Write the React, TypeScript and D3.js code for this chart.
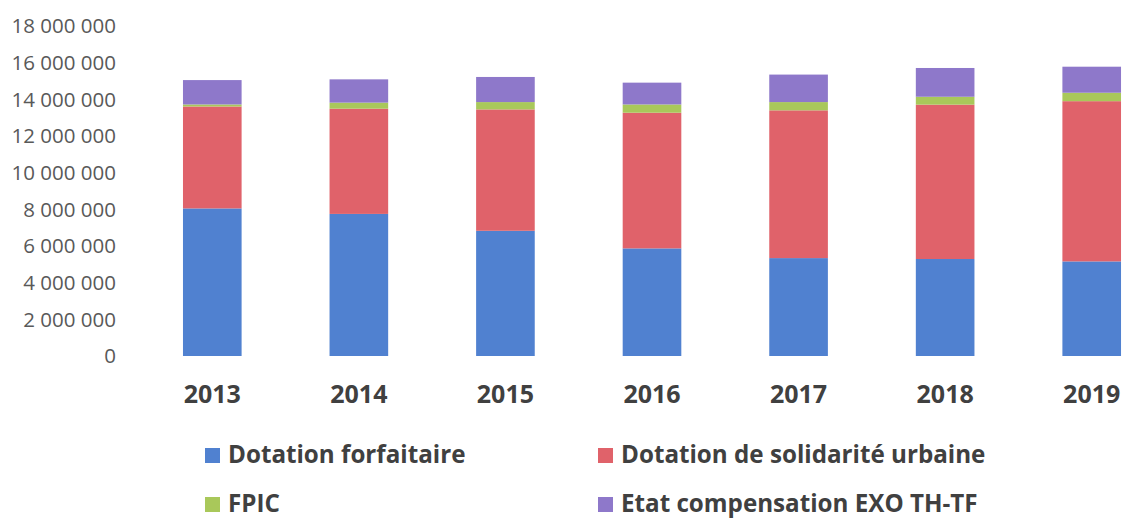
import React from 'react';
import * as d3 from 'd3';

const years = ['2013', '2014', '2015', '2016', '2017', '2018', '2019'];
const dotationForfaitaire = [8050000, 7750000, 6830000, 5870000, 5340000, 5290000, 5160000];
const dsu = [5560000, 5740000, 6620000, 7400000, 8060000, 8420000, 8740000];
const fpic = [110000, 330000, 400000, 450000, 450000, 430000, 460000];
const etatCompensation = [1330000, 1270000, 1370000, 1190000, 1500000, 1570000, 1420000];

const seriesNames = ['Dotation forfaitaire', 'Dotation de solidarité urbaine', 'FPIC', 'Etat compensation EXO TH-TF'];
const seriesKeys = ['df', 'dsu', 'fpic', 'etat'];
const colors = ['#5081D0', '#E0626A', '#A9C85A', '#8E78CA'];
const yTicks = [0, 2000000, 4000000, 6000000, 8000000, 10000000, 12000000, 14000000, 16000000, 18000000];

const width = 1124;
const height = 518;

const rows = years.map((y, i) => ({
  year: y,
  df: dotationForfaitaire[i],
  dsu: dsu[i],
  fpic: fpic[i],
  etat: etatCompensation[i],
}));

const fmt = (v: number) => d3.format(',')(v).replace(/,/g, ' ');

export default function App() {
  const x = d3.scaleBand<string>().domain(years).range([139, 1165]).paddingInner(0.6).paddingOuter(0.3);
  const y = d3.scaleLinear().domain([0, 18000000]).range([356, 26]);
  const stacked = d3.stack<any>().keys(seriesKeys)(rows);

  // legend spots: two columns, two rows
  const legendPos = [
    [205, 448],
    [598, 448],
    [205, 497],
    [598, 497],
  ];

  return (
    <svg width={width} height={height} style={{ position: 'absolute', left: 0, top: 0, background: '#fff' }}>
      <g>
        {yTicks.map((t) => (
          <text
            key={t}
            x={116}
            y={y(t)}
            dy="0.35em"
            textAnchor="end"
            fontFamily="Open Sans"
            fontSize={20.5}
            fill="#595959"
          >
            {fmt(t)}
          </text>
        ))}
      </g>
      <g>
        {stacked.map((s, si) =>
          s.map((d, i) => (
            <rect
              key={si + '-' + i}
              x={x(years[i])}
              y={y(d[1])}
              width={x.bandwidth()}
              height={y(d[0]) - y(d[1])}
              fill={colors[si]}
            />
          ))
        )}
      </g>
      <g>
        {years.map((yr) => (
          <text
            key={yr}
            x={(x(yr) as number) + x.bandwidth() / 2}
            y={403}
            textAnchor="middle"
            fontFamily="Open Sans"
            fontWeight="bold"
            fontSize={25}
            fill="#404040"
          >
            {yr}
          </text>
        ))}
      </g>
      <g>
        {seriesNames.map((name, i) => (
          <g key={name} transform={`translate(${legendPos[i][0]},${legendPos[i][1]})`}>
            <rect width={15} height={15} fill={colors[i]} />
            <text x={23} y={15} fontFamily="Open Sans" fontWeight="bold" fontSize={24.2} fill="#404040">
              {name}
            </text>
          </g>
        ))}
      </g>
    </svg>
  );
}
